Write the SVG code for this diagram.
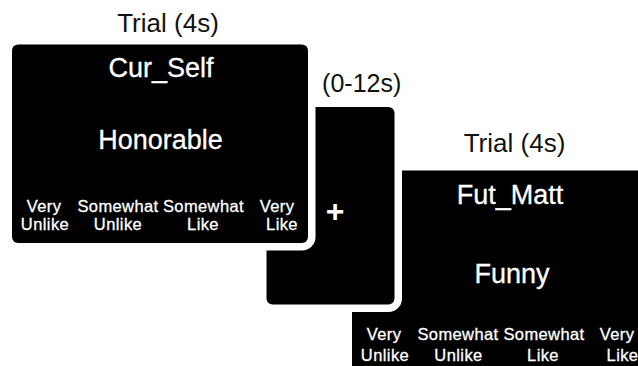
<svg xmlns="http://www.w3.org/2000/svg" width="638" height="366" viewBox="0 0 638 366">
<style>
.panel{fill:#000;stroke:#fff;stroke-width:15;stroke-linejoin:round;paint-order:stroke}
.cap{font-family:"Liberation Sans",Arial,sans-serif;font-size:26px;fill:#111;text-anchor:middle}
.title{font-family:"Liberation Sans",Arial,sans-serif;font-size:27px;fill:#fff;stroke:#fff;stroke-width:0.3;text-anchor:middle}
.lab{font-family:"Liberation Sans",Arial,sans-serif;font-size:16.5px;letter-spacing:0.4px;fill:#fff;stroke:#fff;stroke-width:0.3;text-anchor:middle}
.plus{font-family:"Liberation Sans",Arial,sans-serif;font-size:32px;font-weight:bold;fill:#fff;text-anchor:middle}
</style>
<rect width="638" height="366" fill="#fff"/>
<g id="trial2">
  <rect class="panel" x="352" y="170.5" width="300" height="215" rx="6"/>
  <text class="cap" x="514.5" y="151.5">Trial (4s)</text>
  <text class="title" x="510" y="204">Fut_Matt</text>
  <text class="title" x="512" y="283">Funny</text>
  <text class="lab"><tspan x="384" y="339.5">Very</tspan><tspan x="385" y="360.5">Unlike</tspan></text>
  <text class="lab"><tspan x="458" y="339.5">Somewhat</tspan><tspan x="458.5" y="360.5">Unlike</tspan></text>
  <text class="lab"><tspan x="544" y="339.5">Somewhat</tspan><tspan x="543" y="360.5">Like</tspan></text>
  <text class="lab"><tspan x="617" y="339.5">Very</tspan><tspan x="622.5" y="360.5">Like</tspan></text>
</g>
<g id="fixation">
  <rect class="panel" x="266.5" y="107" width="128" height="197.5" rx="6"/>
  <text class="cap" x="361.7" y="92" style="font-size:25px">(0-12s)</text>
  <text class="plus" x="335" y="222">+</text>
</g>
<g id="trial1">
  <rect class="panel" x="12" y="44.5" width="296" height="198.5" rx="6"/>
  <text class="cap" x="168" y="32">Trial (4s)</text>
  <text class="title" x="161" y="76.5">Cur_Self</text>
  <text class="title" x="160.5" y="149">Honorable</text>
  <text class="lab"><tspan x="44" y="211.5">Very</tspan><tspan x="45" y="230">Unlike</tspan></text>
  <text class="lab"><tspan x="118" y="211.5">Somewhat</tspan><tspan x="118" y="230">Unlike</tspan></text>
  <text class="lab"><tspan x="203.5" y="211.5">Somewhat</tspan><tspan x="203" y="230">Like</tspan></text>
  <text class="lab"><tspan x="277" y="211.5">Very</tspan><tspan x="282" y="230">Like</tspan></text>
</g>
<g id="connectors"/>
</svg>
